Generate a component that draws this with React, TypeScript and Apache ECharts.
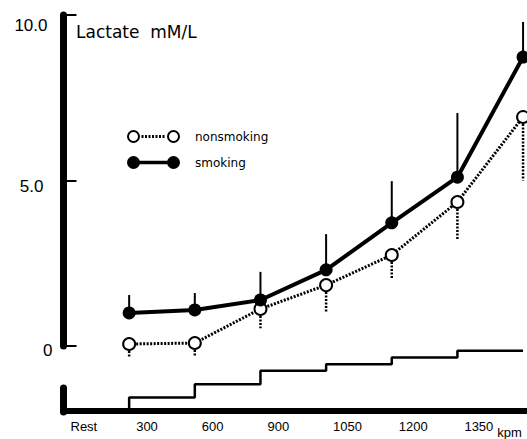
import React, { useEffect, useRef } from "react";
import * as echarts from "echarts";

// Stage index (x position) for each measurement: end of Rest, 300, 600 ... 1350 kpm
const stages = [1, 2, 3, 4, 5, 6, 7];
const smoking = [1.0, 1.09, 1.39, 2.3, 3.72, 5.1, 8.73];
const smokingSD = [0.54, 0.51, 0.85, 1.08, 1.26, 1.94, 1.06];
const nonsmoking = [0.06, 0.09, 1.12, 1.84, 2.75, 4.35, 6.92];
const nonsmokingSD = [0.39, 0.42, 0.58, 0.84, 0.7, 1.12, 1.92];
const stageLabels = ["Rest", "300", "600", "900", "1050", "1200", "1350"];
const workload = [0, 300, 600, 900, 1050, 1200, 1350];
const yTicks = [0, 5, 10];

const FONT = "'Liberation Sans', Arial, Helvetica, sans-serif";
const WIDE = "'DejaVu Sans', sans-serif";

const openIcon =
  "path://M0 6.5A6.5 6.5 0 1 1 13 6.5A6.5 6.5 0 1 1 0 6.5Z M2 6.5A4.5 4.5 0 1 0 11 6.5A4.5 4.5 0 1 0 2 6.5Z " +
  "M40 6.5A6.5 6.5 0 1 1 53 6.5A6.5 6.5 0 1 1 40 6.5Z M42 6.5A4.5 4.5 0 1 0 51 6.5A4.5 4.5 0 1 0 42 6.5Z " +
  [14.5, 18, 21.5, 25, 28.5, 32, 35.5].map((x) => `M${x} 5h2v3h-2Z`).join(" ");
const filledIcon =
  "path://M0 6.5A6.5 6.5 0 1 1 13 6.5A6.5 6.5 0 1 1 0 6.5Z M40 6.5A6.5 6.5 0 1 1 53 6.5A6.5 6.5 0 1 1 40 6.5Z M6 4.75h41v3.5h-41Z";

export default function App() {
  const ref = useRef<HTMLDivElement>(null);
  useEffect(() => {
    if (!ref.current) return;
    const chart = echarts.init(ref.current, null, { renderer: "svg" });
    const xMax = 7.06;
    const smokingData = stages.map((s, i) => [s, smoking[i]]);
    const nonsmokingData = stages.map((s, i) => [s, nonsmoking[i]]);
    const errData = stages.map((s, i) => [s, smoking[i], smoking[i] + smokingSD[i], nonsmoking[i], nonsmoking[i] - nonsmokingSD[i]]);
    const stepData = workload.map((w, i) => [i, w]).concat([[7, workload[workload.length - 1]]]);

    chart.setOption({
      animation: false,
      backgroundColor: "#fff",
      title: {
        text: "Lactate  mM/L",
        left: 76,
        top: 23,
        padding: 0,
        textStyle: { fontFamily: WIDE, fontSize: 17, fontWeight: "normal", color: "#000" },
      },
      legend: {
        orient: "vertical",
        left: 127,
        top: 130,
        padding: 0,
        itemWidth: 53,
        itemHeight: 13,
        itemGap: 13,
        selectedMode: false,
        textStyle: { fontFamily: WIDE, fontSize: 12, color: "#000", padding: [0, 0, 0, 10] },
        data: [
          { name: "nonsmoking", icon: openIcon, itemStyle: { color: "#000", borderWidth: 0 } },
          { name: "smoking", icon: filledIcon, itemStyle: { color: "#000", borderWidth: 0 } },
        ],
      },
      grid: [
        { left: 63.5, right: 0, top: 15, height: 331 },
        { left: 63.5, right: 0, top: 388, height: 24 },
      ],
      xAxis: [
        { gridIndex: 0, type: "value", min: 0, max: xMax, show: false },
        {
          gridIndex: 1,
          type: "value",
          min: 0,
          max: xMax,
          interval: 1,
          name: "kpm",
          nameLocation: "end",
          nameGap: -30,
          nameTextStyle: { fontFamily: FONT, fontSize: 13, color: "#000", align: "left", verticalAlign: "top", padding: [15, 0, 0, 0] },
          axisLine: { show: true, lineStyle: { color: "#000", width: 6 } },
          axisTick: { show: false },
          splitLine: { show: false },
          axisLabel: {
            margin: 8,
            align: "left",
            padding: [0, 0, 0, 7],
            fontFamily: FONT,
            fontSize: 13,
            color: "#000",
            showMaxLabel: false,
            formatter: (v: number) => (stageLabels[Math.round(v)] !== undefined && Math.abs(v - Math.round(v)) < 1e-6 ? stageLabels[Math.round(v)] : ""),
          },
        },
      ],
      yAxis: [
        {
          gridIndex: 0,
          type: "value",
          min: yTicks[0],
          max: yTicks[2],
          interval: 5,
          axisLine: { show: true, lineStyle: { color: "#000", width: 7 } },
          axisTick: { show: true, inside: true, length: 13, lineStyle: { color: "#000", width: 2 } },
          splitLine: { show: false },
          axisLabel: {
            margin: 11,
            fontFamily: FONT,
            fontSize: 17,
            color: "#000",
            formatter: (v: number) => (v === 10 ? "{a|10.0}" : v === 5 ? "{b|5.0}" : "{c|0}"),
            rich: {
              a: { fontFamily: FONT, fontSize: 17, color: "#000", padding: [20, 5, 0, 0] },
              b: { fontFamily: FONT, fontSize: 17, color: "#000", padding: [12, 9, 0, 0] },
              c: { fontFamily: FONT, fontSize: 17, color: "#000", padding: [8, 0, 0, 0] },
            },
          },
        },
        {
          gridIndex: 1,
          type: "value",
          min: -25,
          max: 514,
          axisLine: { show: true, lineStyle: { color: "#000", width: 7 } },
          axisTick: { show: false },
          axisLabel: { show: false },
          splitLine: { show: false },
        },
      ],
      series: [
        {
          name: "errorbars",
          type: "custom",
          xAxisIndex: 0,
          yAxisIndex: 0,
          z: 1,
          clip: false,
          silent: true,
          data: errData,
          renderItem: (params: any, api: any) => {
            const x = api.value(0);
            const p0 = api.coord([x, api.value(1)]);
            const p1 = api.coord([x, api.value(2)]);
            const q0 = api.coord([x, api.value(3)]);
            const q1 = api.coord([x, api.value(4)]);
            return {
              type: "group",
              children: [
                { type: "line", shape: { x1: p0[0], y1: p0[1], x2: p1[0], y2: p1[1] }, style: { stroke: "#000", lineWidth: 2 } },
                { type: "line", shape: { x1: q0[0], y1: q0[1], x2: q1[0], y2: q1[1] }, style: { stroke: "#000", lineWidth: 2.5, lineDash: [2, 1.5] } },
              ],
            };
          },
        },
        {
          name: "nonsmoking",
          type: "line",
          xAxisIndex: 0,
          yAxisIndex: 0,
          z: 3,
          clip: false,
          data: nonsmokingData,
          symbol: "circle",
          symbolSize: 12,
          lineStyle: { color: "#000", width: 3, type: [2, 1.5] },
          itemStyle: { color: "#fff", borderColor: "#000", borderWidth: 2 },
        },
        {
          name: "smoking",
          type: "line",
          xAxisIndex: 0,
          yAxisIndex: 0,
          z: 4,
          clip: false,
          data: smokingData,
          symbol: "circle",
          symbolSize: 13,
          lineStyle: { color: "#000", width: 4 },
          itemStyle: { color: "#000", borderColor: "#000", borderWidth: 0 },
        },
        {
          name: "workload",
          type: "line",
          xAxisIndex: 1,
          yAxisIndex: 1,
          step: "end",
          clip: false,
          symbol: "none",
          data: stepData,
          lineStyle: { color: "#000", width: 2.5 },
          z: 2,
        },
      ],
    });
    return () => chart.dispose();
  }, []);
  return <div ref={ref} style={{ position: "fixed", left: 0, top: 0, width: 527, height: 439 }} />;
}
